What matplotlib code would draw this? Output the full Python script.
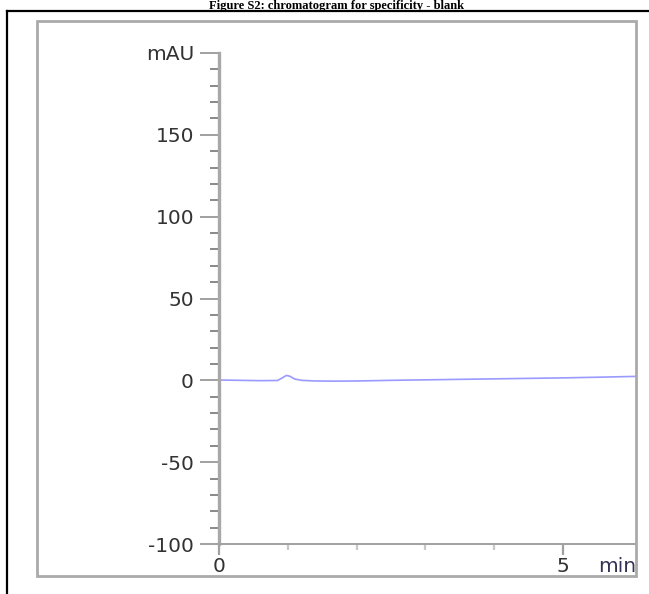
import matplotlib
matplotlib.use("Agg")
import matplotlib.pyplot as plt
from matplotlib.lines import Line2D
from matplotlib.patches import Rectangle
from matplotlib.ticker import MultipleLocator, FixedLocator
import matplotlib.transforms as mtransforms

# ---- data ----
title = "Figure S2: chromatogram for specificity - blank"
time_min = [0.0, 0.3, 0.6, 0.85, 0.92, 0.98, 1.03, 1.1, 1.2, 1.4, 1.7, 2.0, 2.5, 3.0, 3.5, 4.0, 4.5, 5.0, 5.5, 6.05]
signal_mau = [0.2, 0.0, -0.2, -0.1, 1.5, 3.0, 2.5, 0.8, 0.0, -0.4, -0.5, -0.4, 0.0, 0.3, 0.6, 0.9, 1.2, 1.5, 1.9, 2.4]
y_ticks = [-100, -50, 0, 50, 100, 150, 200]
y_tick_labels = ["-100", "-50", "0", "50", "100", "150", "mAU"]
x_ticks = [0, 5]
x_tick_labels = ["0", "5"]
x_minor = [1, 2, 3, 4]
x_unit = "min"

W, H = 649, 594
fig = plt.figure(figsize=(W / 100, H / 100), dpi=100)
fig.patch.set_facecolor("white")

def fx(px):
    return px / W

def fy(py):
    return 1 - py / H

# axes placement
left, right, top, bottom = 219, 636, 53, 544
ax = fig.add_axes([fx(left), fy(bottom), fx(right - left), (bottom - top) / H])
ax.set_xlim(0, 6.06)
ax.set_ylim(-100, 200)
ax.patch.set_alpha(0)

ax.plot(time_min, signal_mau, color="#9a9aff", lw=1.2, solid_joinstyle="round")

for s in ["top", "right"]:
    ax.spines[s].set_visible(False)
ax.spines["left"].set_color("#a8a8a8")
ax.spines["left"].set_linewidth(2.4)
ax.spines["bottom"].set_color("#a0a0a0")
ax.spines["bottom"].set_linewidth(1.4)

ax.yaxis.set_major_locator(FixedLocator(y_ticks))
ax.set_yticklabels(y_tick_labels)
ax.yaxis.set_minor_locator(MultipleLocator(10))
ax.tick_params(axis="y", which="major", length=14, width=1.3, color="#9a9a9a",
               pad=4, labelsize=14.5, labelcolor="#333333")
ax.tick_params(axis="y", which="minor", length=6.5, width=1.3, color="#808080")

ax.xaxis.set_major_locator(FixedLocator(x_ticks))
ax.set_xticklabels(x_tick_labels)
ax.xaxis.set_minor_locator(FixedLocator(x_minor))
ax.tick_params(axis="x", which="major", length=8, width=1.6, color="#a0a0a0",
               pad=1, labelsize=14.5, labelcolor="#333333")
ax.tick_params(axis="x", which="minor", length=4.3, width=1.6, color="#c8c8c8")

for lab in ax.get_xticklabels() + ax.get_yticklabels():
    lab.set_family("DejaVu Sans")

ax.text(1.0, fy(566), x_unit,
        transform=mtransforms.blended_transform_factory(ax.transAxes, fig.transFigure),
        ha="right", va="center", fontsize=14.5, color="#333355", family="DejaVu Sans")

# frames
fig.add_artist(Line2D([fx(7), fx(7)], [fy(11), fy(H + 5)], color="black", lw=1.6))
fig.add_artist(Line2D([fx(7), fx(W + 5)], [fy(11), fy(11)], color="black", lw=1.6))
fig.add_artist(Rectangle((fx(37), fy(576)), fx(636 - 37), (576 - 21) / H,
                         fill=False, edgecolor="#aaaaaa", lw=2.0))

# title
fig.text(fx(337), fy(8.5), title, ha="center", va="baseline", fontsize=9,
         fontweight="bold", family="Liberation Serif", color="black")

fig.savefig("out.png", dpi=100, facecolor="white")
